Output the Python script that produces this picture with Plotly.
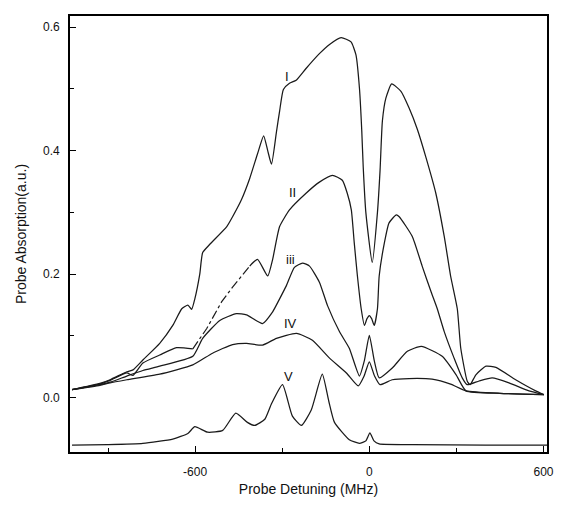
import plotly.graph_objects as go

# ---- data ----
x_I = [-1024, -928, -893, -835, -814, -780, -722, -677, -646, -625, -612, -601, -584, -574, -550, -491, -471, -441, -412,
       -385, -364, -350, -337, -320, -309, -296, -275, -252, -218, -172, -137, -97, -63, -46, -34, -26, -21, -12, 10,
       28, 37, 45, 57, 77, 109, 137, 165, 195, 229, 258, 280, 303, 315, 337, 347, 367, 402, 436, 504, 573, 601]
y_I = [0.013, 0.023, 0.029, 0.042, 0.045, 0.061, 0.088, 0.117, 0.144, 0.150, 0.143, 0.160, 0.200, 0.235, 0.248, 0.277, 0.293, 0.320, 0.355,
       0.395, 0.424, 0.400, 0.378, 0.430, 0.464, 0.499, 0.509, 0.514, 0.533, 0.557, 0.572, 0.583, 0.576, 0.555, 0.501, 0.432, 0.373, 0.300, 0.219,
       0.300, 0.368, 0.448, 0.485, 0.508, 0.496, 0.469, 0.435, 0.389, 0.331, 0.261, 0.197, 0.144, 0.080, 0.027, 0.021, 0.037, 0.051, 0.049, 0.029, 0.011, 0.005]

x_II = [-1024, -928, -893, -835, -814, -780, -722, -664, -608, -560, -509, -471, -412, -385, -350, -333, -309, -275, -218,
        -172, -127, -93, -76, -62, -52, -41, -28, -17, -8, 0, 8, 17, 28, 34, 52, 68, 93, 103, 148, 182, 213, 234, 258, 292, 320, 337,
        378, 423, 481, 550, 601]
y_II = [0.013, 0.022, 0.028, 0.040, 0.036, 0.056, 0.069, 0.081, 0.079, 0.112, 0.155, 0.179, 0.213, 0.224, 0.197, 0.224, 0.277, 0.304, 0.331,
        0.349, 0.360, 0.352, 0.331, 0.304, 0.251, 0.197, 0.144, 0.117, 0.128, 0.133, 0.128, 0.117, 0.144, 0.197, 0.251, 0.283, 0.296, 0.293, 0.261, 0.213, 0.171, 0.144,
        0.107, 0.064, 0.032, 0.021, 0.027, 0.032, 0.024, 0.011, 0.005]

x_iii = [-1024, -928, -893, -835, -780, -722, -608, -574, -515, -458, -423, -368, -333, -309, -286, -258, -230, -206, -172,
         -144, -103, -69, -34, -17, 0, 17, 34, 79, 131, 179, 251, 299, 333, 450, 601]
y_iii = [0.013, 0.021, 0.025, 0.035, 0.044, 0.051, 0.067, 0.096, 0.125, 0.136, 0.134, 0.120, 0.139, 0.160, 0.181, 0.211, 0.218, 0.213, 0.187,
         0.149, 0.107, 0.080, 0.035, 0.060, 0.101, 0.060, 0.032, 0.048, 0.075, 0.083, 0.067, 0.037, 0.011, 0.007, 0.005]

x_IV = [-1024, -928, -893, -835, -722, -608, -540, -471, -423, -368, -320, -251, -196, -137, -79, -38, -18, 0, 18, 37,
        79, 137, 216, 280, 333, 450, 601]
y_IV = [0.013, 0.020, 0.024, 0.029, 0.038, 0.053, 0.072, 0.086, 0.088, 0.085, 0.096, 0.104, 0.093, 0.064, 0.040, 0.019, 0.035, 0.058, 0.035, 0.021,
        0.029, 0.031, 0.030, 0.022, 0.011, 0.007, 0.005]

x_V = [-1024, -900, -780, -677, -625, -601, -557, -505, -460, -420, -395, -360, -337, -299, -265, -234, -200, -162, -140,
       -120, -69, -34, -12, 2, 16, 34, 150, 400, 612]
y_V = [-0.077, -0.076, -0.074, -0.067, -0.058, -0.047, -0.056, -0.053, -0.025, -0.040, -0.045, -0.035, -0.010, 0.021, -0.030, -0.045, -0.020, 0.038, -0.005,
       -0.040, -0.068, -0.074, -0.070, -0.057, -0.070, -0.075, -0.076, -0.077, -0.077]

labels = ["I", "II", "iii", "IV", "V"]
label_x = [-283, -266, -270, -270, -277]
label_y = [0.52, 0.333, 0.224, 0.12, 0.035]

x_ticks = [-600, 0, 600]
y_ticks = [0.0, 0.2, 0.4, 0.6]

LINE = dict(color="#1a1a1a", width=1.25, shape="spline", smoothing=0.5)
FONT = "Liberation Sans, Arial"

fig = go.Figure()
fig.add_trace(go.Scatter(x=x_I, y=y_I, mode="lines", line=LINE, showlegend=False))

# II: solid, with a broken (dash-dot) stretch between -608 and -412
i0 = x_II.index(-608)
i1 = x_II.index(-412)
fig.add_trace(go.Scatter(x=x_II[:i0 + 1], y=y_II[:i0 + 1], mode="lines", line=LINE, showlegend=False))
fig.add_trace(go.Scatter(x=x_II[i0:i1 + 1], y=y_II[i0:i1 + 1], mode="lines",
                         line=dict(color="#1a1a1a", width=1.2, dash="dashdot"), showlegend=False))
fig.add_trace(go.Scatter(x=x_II[i1:], y=y_II[i1:], mode="lines", line=LINE, showlegend=False))

for xs, ys in [(x_iii, y_iii), (x_IV, y_IV), (x_V, y_V)]:
    fig.add_trace(go.Scatter(x=xs, y=ys, mode="lines", line=LINE, showlegend=False))

for t, lx, ly in zip(labels, label_x, label_y):
    fig.add_annotation(x=lx, y=ly, text=t, showarrow=False,
                       font=dict(family=FONT, size=13, color="#111"))

axis_common = dict(showgrid=False, zeroline=False, showline=True, linecolor="black", linewidth=1.6,
                   mirror=True, ticks="inside", ticklen=6, tickwidth=1.3, tickcolor="black",
                   tickfont=dict(family=FONT, size=12, color="#111"),
                   minor=dict(ticks="inside", ticklen=4, tickwidth=1, tickcolor="black", showgrid=False))

fig.update_xaxes(range=[-1031, 612], tickvals=x_ticks, ticktext=["-600", "0", "600"],
                 minor_tickvals=[-900, -300, 300],
                 title=dict(text="Probe Detuning (MHz)", font=dict(family=FONT, size=14, color="#111"),
                            standoff=6),
                 ticklabelstandoff=8, **axis_common)
fig.update_yaxes(range=[-0.088, 0.618], tickvals=y_ticks, ticktext=["0.0", "0.2", "0.4", "0.6"],
                 minor_tickvals=[0.1, 0.3, 0.5],
                 title=dict(text="Probe Absorption(a.u.)", font=dict(family=FONT, size=14, color="#111"),
                            standoff=13),
                 ticklabelstandoff=6, **axis_common)

# the page body adds an 8px margin; size the figure so the plot area lands where the reference has it
fig.update_layout(width=552, height=493, margin=dict(l=62, r=12, t=6, b=46),
                  paper_bgcolor="white", plot_bgcolor="white")

fig.write_html("out.html")
